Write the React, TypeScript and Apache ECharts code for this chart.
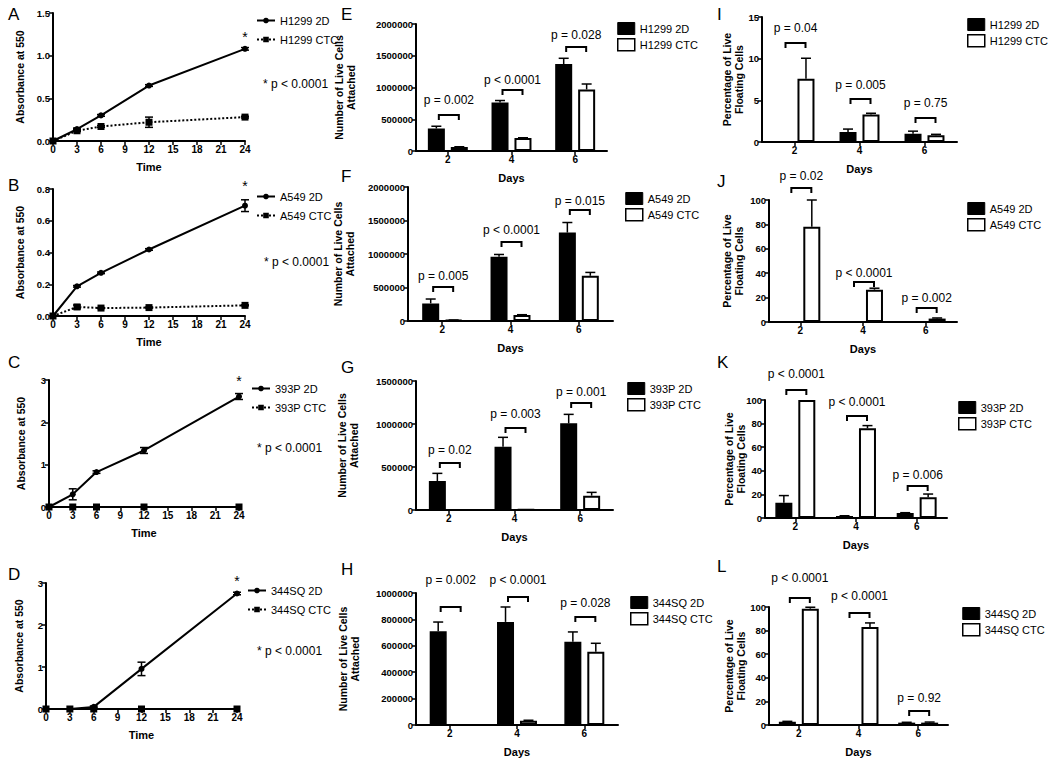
import React, { useEffect, useRef } from 'react';
import * as echarts from 'echarts';

const FONT = '"Liberation Sans", Arial, Helvetica, sans-serif';

// ---------- Line panels (A–D): absorbance vs time ----------
const hours = [0, 3, 6, 12, 24];

const h1299Names = ['H1299 2D', 'H1299 CTC'];
const h1299Line2D = [0, 0.14, 0.3, 0.65, 1.08];
const h1299Line2DErr = [0, 0.01, 0.01, 0.01, 0.015];
const h1299LineCTC = [0, 0.12, 0.17, 0.22, 0.28];
const h1299LineCTCErr = [0, 0.01, 0.01, 0.06, 0.01];

const a549Names = ['A549 2D', 'A549 CTC'];
const a549Line2D = [0, 0.187, 0.272, 0.419, 0.695];
const a549Line2DErr = [0, 0.005, 0.005, 0.005, 0.037];
const a549LineCTC = [0, 0.057, 0.05, 0.053, 0.067];
const a549LineCTCErr = [0, 0.012, 0.003, 0.003, 0.003];

const p393Names = ['393P 2D', '393P CTC'];
const p393Line2D = [0, 0.3, 0.825, 1.335, 2.61];
const p393Line2DErr = [0, 0.13, 0.03, 0.07, 0.07];
const p393LineCTC = [0, 0, 0, 0, 0];
const p393LineCTCErr = [0, 0, 0, 0, 0];

const sq344Names = ['344SQ 2D', '344SQ CTC'];
const sq344Line2D = [0, 0, 0.05, 0.955, 2.75];
const sq344Line2DErr = [0, 0, 0.02, 0.16, 0.03];
const sq344LineCTC = [0, 0, 0, 0, 0];
const sq344LineCTCErr = [0, 0, 0, 0, 0];

// ---------- Bar panels (E–L) ----------
const days = ['2', '4', '6'];

// E: H1299 attached
const eVal2D = [355000, 765000, 1370000];
const eErr2D = [35000, 30000, 90000];
const eValCTC = [63000, 205000, 970000];
const eErrCTC = [4000, 4000, 85000];
const eP = ['p = 0.002', 'p < 0.0001', 'p = 0.028'];
const eBracket = [567000, 961000, 1638000];
const eLabel = [803000, 1118000, 1827000];

// F: A549 attached
const fVal2D = [263000, 958000, 1320000];
const fErr2D = [65000, 35000, 150000];
const fValCTC = [12000, 89000, 675000];
const fErrCTC = [3000, 5000, 50000];
const fP = ['p = 0.005', 'p < 0.0001', 'p = 0.015'];
const fBracket = [507000, 1179000, 1657000];
const fLabel = [672000, 1358000, 1791000];

// G: 393P attached
const gVal2D = [337000, 736000, 1008000];
const gErr2D = [89000, 109000, 104000];
const gValCTC = [0, 4000, 167000];
const gErrCTC = [0, 0, 38000];
const gP = ['p = 0.02', 'p = 0.003', 'p = 0.001'];
const gBracket = [547000, 953000, 1244000];
const gLabel = [698000, 1116000, 1372000];

// H: 344SQ attached
const hVal2D = [710000, 781000, 630000];
const hErr2D = [70000, 113000, 75000];
const hValCTC = [0, 33000, 554000];
const hErrCTC = [0, 3000, 65000];
const hP = ['p = 0.002', 'p < 0.0001', 'p = 0.028'];
const hBracket = [894000, 970000, 818000];
const hLabel = [1098000, 1098000, 924000];

// I: H1299 floating
const iVal2D = [0, 1.2, 1.0];
const iErr2D = [0, 0.35, 0.3];
const iValCTC = [7.6, 3.3, 0.8];
const iErrCTC = [2.45, 0.15, 0.12];
const iP = ['p = 0.04', 'p = 0.005', 'p = 0.75'];
const iBracket = [11.88, 5.16, 2.88];
const iLabel = [13.68, 6.84, 4.68];

// J: A549 floating
const jVal2D = [0, 0, 0];
const jErr2D = [0, 0, 0];
const jValCTC = [78, 26.5, 2.8];
const jErrCTC = [22, 1.2, 0.5];
const jP = ['p = 0.02', 'p < 0.0001', 'p = 0.002'];
const jBracket = [109.8, 32.8, 11.5];
const jLabel = [119.7, 40.2, 19.7];

// K: 393P floating
const kVal2D = [13, 1.7, 4.2];
const kErr2D = [6, 0.2, 0.3];
const kValCTC = [100, 76, 17.5];
const kErrCTC = [0, 2.3, 2.8];
const kP = ['p < 0.0001', 'p < 0.0001', 'p = 0.006'];
const kBracket = [108.5, 86.4, 27.1];
const kLabel = [122, 98.3, 36.4];

// L: 344SQ floating
const lVal2D = [2.8, 0.3, 2.0];
const lErr2D = [0.3, 0, 0.3];
const lValCTC = [98.6, 83, 2];
const lErrCTC = [1.2, 3.5, 0.5];
const lP = ['p < 0.0001', 'p < 0.0001', 'p = 0.92'];
const lBracket = [107.6, 94.9, 11.9];
const lLabel = [124.6, 109.3, 22.9];

const attachedName = 'Number of Live Cells\nAttached';
const floatingName = 'Percentage of Live\nFloating Cells';

const linePanels = [
  { key: 'A', names: h1299Names, v2: h1299Line2D, e2: h1299Line2DErr, vc: h1299LineCTC, ec: h1299LineCTCErr, max: 1.5, interval: 0.5, dec: 1,
    grid: { left: 53, top: 13, width: 192, height: 128 }, nameGap: 27, star: 2, legend: { left: 256, top: 15 }, note: [263, 85], letter: [8, 15] },
  { key: 'B', names: a549Names, v2: a549Line2D, e2: a549Line2DErr, vc: a549LineCTC, ec: a549LineCTCErr, max: 0.8, interval: 0.2, dec: 1,
    grid: { left: 53, top: 189, width: 192, height: 127 }, nameGap: 27, star: 10, legend: { left: 256, top: 191 }, note: [264, 263], letter: [8, 186] },
  { key: 'C', names: p393Names, v2: p393Line2D, e2: p393Line2DErr, vc: p393LineCTC, ec: p393LineCTCErr, max: 3, interval: 1, dec: 0,
    grid: { left: 49, top: 380, width: 190, height: 127 }, nameGap: 22, star: 6, legend: { left: 251, top: 383 }, note: [257, 449], letter: [8, 363] },
  { key: 'D', names: sq344Names, v2: sq344Line2D, e2: sq344Line2DErr, vc: sq344LineCTC, ec: sq344LineCTCErr, max: 3, interval: 1, dec: 0,
    grid: { left: 46, top: 583, width: 191, height: 126 }, nameGap: 21, star: 3, legend: { left: 247, top: 585 }, note: [257, 652], letter: [8, 575] },
];

const barPanels = [
  { key: 'E', names: h1299Names, v2: eVal2D, e2: eErr2D, vc: eValCTC, ec: eErrCTC, p: eP, br: eBracket, lb: eLabel, max: 2000000, interval: 500000, yName: attachedName,
    grid: { left: 416, top: 24, width: 191, height: 127 }, nameGap: 59, legend: { left: 617, top: 22 }, letter: [341, 15] },
  { key: 'F', names: a549Names, v2: fVal2D, e2: fErr2D, vc: fValCTC, ec: fErrCTC, p: fP, br: fBracket, lb: fLabel, max: 2000000, interval: 500000, yName: attachedName,
    grid: { left: 408, top: 187, width: 205, height: 134 }, nameGap: 52, legend: { left: 625, top: 192 }, letter: [341, 177] },
  { key: 'G', names: p393Names, v2: gVal2D, e2: gErr2D, vc: gValCTC, ec: gErrCTC, p: gP, br: gBracket, lb: gLabel, max: 1500000, interval: 500000, yName: attachedName,
    grid: { left: 416, top: 381, width: 197, height: 129 }, nameGap: 56, legend: { left: 627, top: 382 }, letter: [341, 368] },
  { key: 'H', names: sq344Names, v2: hVal2D, e2: hErr2D, vc: hValCTC, ec: hErrCTC, p: hP, br: hBracket, lb: hLabel, max: 1000000, interval: 200000, yName: attachedName,
    grid: { left: 416, top: 593, width: 202, height: 132 }, nameGap: 55, legend: { left: 630, top: 596 }, letter: [341, 570] },
  { key: 'I', names: h1299Names, v2: iVal2D, e2: iErr2D, vc: iValCTC, ec: iErrCTC, p: iP, br: iBracket, lb: iLabel, max: 15, interval: 5, yName: floatingName,
    grid: { left: 762, top: 17, width: 195, height: 125 }, nameGap: 17, legend: { left: 967, top: 18 }, letter: [717, 15] },
  { key: 'J', names: a549Names, v2: jVal2D, e2: jErr2D, vc: jValCTC, ec: jErrCTC, p: jP, br: jBracket, lb: jLabel, max: 100, interval: 20, yName: floatingName,
    grid: { left: 769, top: 200, width: 188, height: 122 }, nameGap: 24, legend: { left: 967, top: 202 }, letter: [717, 182] },
  { key: 'K', names: p393Names, v2: kVal2D, e2: kErr2D, vc: kValCTC, ec: kErrCTC, p: kP, br: kBracket, lb: kLabel, max: 100, interval: 20, yName: floatingName,
    grid: { left: 765, top: 400, width: 182, height: 118 }, nameGap: 18, legend: { left: 958, top: 401 }, letter: [717, 363] },
  { key: 'L', names: sq344Names, v2: lVal2D, e2: lErr2D, vc: lValCTC, ec: lErrCTC, p: lP, br: lBracket, lb: lLabel, max: 100, interval: 20, yName: floatingName,
    grid: { left: 769, top: 607, width: 179, height: 118 }, nameGap: 22, legend: { left: 962, top: 607 }, letter: [717, 567] },
];

const BAR_W = 17;
const BAR_GAP = 0.35;
const BAR_OFF = (BAR_W + BAR_W * BAR_GAP) / 2;

const axisLine = { show: true, lineStyle: { color: '#000', width: 2 } };
const axisTick = { show: true, length: 4, lineStyle: { color: '#000', width: 1.5 } };
const tickLabel = { color: '#000', fontFamily: FONT, fontWeight: 'bold' as const, fontSize: 9.5, margin: 3 };
const nameStyle = { color: '#000', fontFamily: FONT, fontWeight: 'bold' as const, fontSize: 10.5, lineHeight: 12 };
const ERR = { stroke: '#000', lineWidth: 1.5 };

function lineErrSeries(idx: number, vals: number[], errs: number[]) {
  const data = hours.map((h, i) => [h, vals[i] - errs[i], vals[i] + errs[i]]).filter((_, i) => errs[i] > 0);
  return {
    type: 'custom', xAxisIndex: idx, yAxisIndex: idx, z: 5, silent: true,
    encode: { x: 0, y: [1, 2] },
    data,
    renderItem: (params: any, api: any) => {
      const x = api.value(0);
      const lo = api.coord([x, api.value(1)]);
      const hi = api.coord([x, api.value(2)]);
      const c = 4;
      return {
        type: 'group',
        children: [
          { type: 'line', shape: { x1: lo[0], y1: lo[1], x2: hi[0], y2: hi[1] }, style: ERR },
          { type: 'line', shape: { x1: lo[0] - c, y1: lo[1], x2: lo[0] + c, y2: lo[1] }, style: ERR },
          { type: 'line', shape: { x1: hi[0] - c, y1: hi[1], x2: hi[0] + c, y2: hi[1] }, style: ERR },
        ],
      };
    },
  };
}

function barErrSeries(idx: number, vals: number[], errs: number[], offset: number) {
  const data = days.map((_, i) => [i, vals[i], vals[i] + errs[i]]).filter((_, i) => errs[i] > 0);
  return {
    type: 'custom', xAxisIndex: idx, yAxisIndex: idx, z: 5, silent: true,
    encode: { x: 0, y: [1, 2] },
    data,
    renderItem: (params: any, api: any) => {
      const x = api.value(0);
      const lo = api.coord([x, api.value(1)]);
      const hi = api.coord([x, api.value(2)]);
      const cx = lo[0] + offset;
      const c = 5;
      return {
        type: 'group',
        children: [
          { type: 'line', shape: { x1: cx, y1: lo[1], x2: cx, y2: hi[1] }, style: ERR },
          { type: 'line', shape: { x1: cx - c, y1: hi[1], x2: cx + c, y2: hi[1] }, style: ERR },
        ],
      };
    },
  };
}

function bracketSeries(idx: number, br: number[], lb: number[], texts: string[]) {
  return {
    type: 'custom', xAxisIndex: idx, yAxisIndex: idx, z: 6, silent: true,
    data: days.map((_, i) => [i, br[i]]),
    renderItem: (params: any, api: any) => {
      const i = params.dataIndex;
      const b = api.coord([i, br[i]]);
      const l = api.coord([i, lb[i]]);
      const cx = b[0] + 1;
      const hw = 10;
      return {
        type: 'group',
        children: [
          {
            type: 'polyline',
            shape: { points: [[cx - hw, b[1] + 5], [cx - hw, b[1]], [cx + hw, b[1]], [cx + hw, b[1] + 5]] },
            style: { stroke: '#000', lineWidth: 2, fill: null },
          },
          {
            type: 'text', x: cx, y: l[1],
            style: { text: texts[i], align: 'center', verticalAlign: 'middle', fontSize: 12, fontFamily: FONT, fill: '#000' },
          },
        ],
      };
    },
  };
}

function buildOption() {
  const grid: any[] = [];
  const xAxis: any[] = [];
  const yAxis: any[] = [];
  const series: any[] = [];
  const legend: any[] = [];
  const graphic: any[] = [];

  linePanels.forEach((p, gi) => {
    grid.push({ ...p.grid, containLabel: false });
    xAxis.push({
      type: 'value', gridIndex: gi, min: 0, max: 24, interval: 3,
      axisLine, axisTick, axisLabel: { ...tickLabel, fontSize: 10 }, splitLine: { show: false },
      name: 'Time', nameLocation: 'middle', nameGap: 20, nameMoveOverlap: false,
      nameTextStyle: { ...nameStyle, fontSize: 11 },
    });
    yAxis.push({
      type: 'value', gridIndex: gi, min: 0, max: p.max, interval: p.interval,
      axisLine, axisTick, splitLine: { show: false },
      axisLabel: { ...tickLabel, formatter: (v: number) => v.toFixed(p.dec) },
      name: 'Absorbance at 550', nameLocation: 'middle', nameGap: p.nameGap, nameMoveOverlap: false,
      nameTextStyle: nameStyle,
    });
    const n2 = p.key + '|' + p.names[0];
    const nc = p.key + '|' + p.names[1];
    series.push({
      type: 'line', name: n2, xAxisIndex: gi, yAxisIndex: gi, z: 4,
      symbol: 'circle', symbolSize: 6,
      lineStyle: { color: '#000', width: 2 }, itemStyle: { color: '#000' },
      data: hours.map((h, i) =>
        i === hours.length - 1
          ? { value: [h, p.v2[i]], label: { show: true, formatter: '*', position: 'top', distance: p.star, fontSize: 14, color: '#000', fontFamily: FONT } }
          : [h, p.v2[i]]
      ),
    });
    series.push({
      type: 'line', name: nc, xAxisIndex: gi, yAxisIndex: gi, z: 3,
      symbol: 'rect', symbolSize: 7,
      lineStyle: { color: '#000', width: 2, type: [2, 2] }, itemStyle: { color: '#000' },
      data: hours.map((h, i) => [h, p.vc[i]]),
    });
    series.push(lineErrSeries(gi, p.v2, p.e2));
    series.push(lineErrSeries(gi, p.vc, p.ec));
    legend.push({
      ...p.legend, orient: 'vertical', itemWidth: 18, itemHeight: 7, itemGap: 8, selectedMode: false,
      padding: 0,
      textStyle: { color: '#000', fontFamily: FONT, fontSize: 11 },
      formatter: (n: string) => n.split('|')[1],
      data: [n2, nc],
    });
    graphic.push({ type: 'text', left: p.note[0], top: p.note[1] - 7, style: { text: '* p < 0.0001', fontSize: 12, fontFamily: FONT, fill: '#000' } });
    graphic.push({ type: 'text', left: p.letter[0], top: p.letter[1] - 9, style: { text: p.key, fontSize: 17, fontFamily: FONT, fill: '#000' } });
  });

  barPanels.forEach((p, bi) => {
    const gi = 4 + bi;
    grid.push({ ...p.grid, containLabel: false });
    xAxis.push({
      type: 'category', gridIndex: gi, data: days,
      axisLine, axisTick: { ...axisTick, alignWithLabel: true }, axisLabel: { ...tickLabel, fontSize: 10 },
      name: 'Days', nameLocation: 'middle', nameGap: 21, nameMoveOverlap: false,
      nameTextStyle: { ...nameStyle, fontSize: 11 },
    });
    yAxis.push({
      type: 'value', gridIndex: gi, min: 0, max: p.max, interval: p.interval,
      axisLine, axisTick, splitLine: { show: false },
      axisLabel: { ...tickLabel, formatter: (v: number) => String(v) },
      name: p.yName, nameLocation: 'middle', nameGap: p.nameGap, nameMoveOverlap: false,
      nameTextStyle: nameStyle,
    });
    const n2 = p.key + '|' + p.names[0];
    const nc = p.key + '|' + p.names[1];
    series.push({
      type: 'bar', name: n2, xAxisIndex: gi, yAxisIndex: gi, barWidth: BAR_W, barGap: BAR_GAP * 100 + '%',
      itemStyle: { color: '#000', borderColor: '#000', borderWidth: 1.5 },
      data: p.v2,
    });
    series.push({
      type: 'bar', name: nc, xAxisIndex: gi, yAxisIndex: gi, barWidth: BAR_W, barGap: BAR_GAP * 100 + '%',
      itemStyle: { color: '#fff', borderColor: '#000', borderWidth: 2 },
      data: p.vc,
    });
    series.push(barErrSeries(gi, p.v2, p.e2, -BAR_OFF));
    series.push(barErrSeries(gi, p.vc, p.ec, BAR_OFF));
    series.push(bracketSeries(gi, p.br, p.lb, p.p));
    legend.push({
      ...p.legend, orient: 'vertical', itemWidth: 17, itemHeight: 12, itemGap: 3, selectedMode: false,
      padding: 0,
      textStyle: { color: '#000', fontFamily: FONT, fontSize: 11 },
      formatter: (n: string) => n.split('|')[1],
      data: [
        { name: n2, icon: 'rect', itemStyle: { color: '#000', borderColor: '#000', borderWidth: 1 } },
        { name: nc, icon: 'rect', itemStyle: { color: '#fff', borderColor: '#000', borderWidth: 1.5 } },
      ],
    });
    graphic.push({ type: 'text', left: p.letter[0], top: p.letter[1] - 9, style: { text: p.key, fontSize: 17, fontFamily: FONT, fill: '#000' } });
  });

  return {
    animation: false,
    backgroundColor: '#fff',
    textStyle: { fontFamily: FONT },
    grid, xAxis, yAxis, series, legend, graphic,
  };
}

export default function App() {
  const ref = useRef<HTMLDivElement>(null);
  useEffect(() => {
    if (!ref.current) return;
    const chart = echarts.init(ref.current, undefined, { renderer: 'svg' });
    chart.setOption(buildOption() as any);
    return () => chart.dispose();
  }, []);
  return (
    <div
      ref={ref}
      style={{ position: 'absolute', left: 0, top: 0, width: 1050, height: 765, background: '#fff' }}
    />
  );
}
